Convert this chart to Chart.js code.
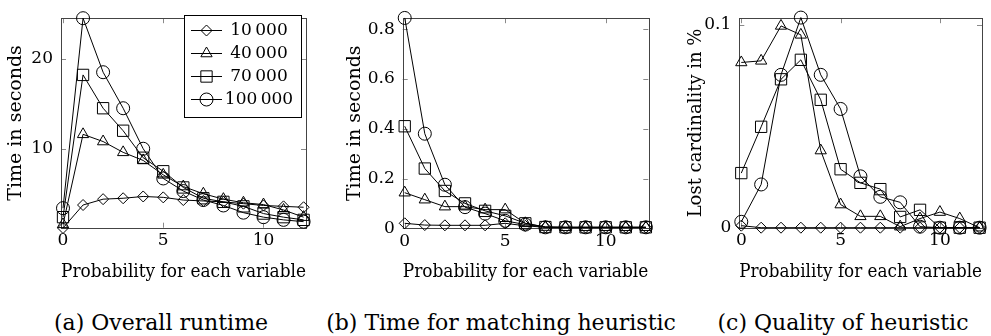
<!DOCTYPE html>
<html>
<head>
<meta charset="utf-8">
<script src="https://cdn.jsdelivr.net/npm/chart.js@4"></script>
<style>
  body { margin: 0; background: #fff; width: 991px; height: 336px; position: relative; overflow: hidden; font-family: 'DejaVu Serif', serif; }
  canvas { position: absolute; top: 0; }
  .cap { position: absolute; top: 308px; font-size: 22px; line-height: 29px; white-space: nowrap; transform: translateX(-50%); color: #000; }
</style>
</head>
<body>
<canvas id="runtimeChart" width="330" height="290" style="left:0px"></canvas>
<canvas id="matchingChart" width="330" height="290" style="left:330px"></canvas>
<canvas id="qualityChart" width="331" height="290" style="left:660px"></canvas>
<div class="cap" style="left:161px">(a) Overall runtime</div>
<div class="cap" style="left:501px">(b) Time for matching heuristic</div>
<div class="cap" style="left:843px">(c) Quality of heuristic</div>
<script>
const probabilities = [0, 1, 2, 3, 4, 5, 6, 7, 8, 9, 10, 11, 12];
const seriesLabels = ['10\u2009000', '40\u2009000', '70\u2009000', '100\u2009000'];
const xTicks = [0, 5, 10];

// (a) overall runtime, seconds
const runtime10k  = [1.2, 3.75, 4.4, 4.5, 4.7, 4.6, 4.3, 4.2, 4.1, 3.9, 3.7, 3.6, 3.5];
const runtime40k  = [1.6, 11.6, 10.8, 9.6, 8.7, 7.1, 5.8, 5.0, 4.4, 4.0, 3.8, 3.2, 2.4];
const runtime70k  = [2.4, 18.2, 14.5, 12.0, 9.0, 7.5, 5.7, 4.5, 4.1, 3.6, 2.8, 2.4, 2.1];
const runtime100k = [3.4, 24.5, 18.5, 14.5, 10.0, 6.7, 5.3, 4.3, 3.7, 2.9, 2.4, 2.1, 1.9];
const runtimeTicks = [10, 20];

// (b) matching heuristic, seconds
const matching10k  = [0.02, 0.013, 0.012, 0.012, 0.012, 0.02, 0.01, 0.004, 0.003, 0.003, 0.003, 0.003, 0.003];
const matching40k  = [0.143, 0.115, 0.087, 0.087, 0.075, 0.075, 0.02, 0.005, 0.004, 0.004, 0.004, 0.004, 0.004];
const matching70k  = [0.41, 0.24, 0.15, 0.10, 0.07, 0.05, 0.02, 0.005, 0.004, 0.004, 0.004, 0.004, 0.004];
const matching100k = [0.845, 0.38, 0.175, 0.085, 0.059, 0.03, 0.015, 0.004, 0.004, 0.004, 0.004, 0.004, 0.004];
const matchingTicks = [0, 0.2, 0.4, 0.6, 0.8];

// (c) lost cardinality, percent
const quality10k  = [0.001, 0, 0, 0, 0, 0, 0, 0, 0, 0, 0, 0, 0];
const quality40k  = [0.0814, 0.0822, 0.0994, 0.095, 0.038, 0.0114, 0.0056, 0.0056, 0.0005, 0.0045, 0.0077, 0.0045, 0];
const quality70k  = [0.0269, 0.0497, 0.0731, 0.0827, 0.063, 0.0288, 0.0221, 0.019, 0.0053, 0.0088, 0, 0, 0];
const quality100k = [0.0029, 0.0213, 0.0753, 0.1035, 0.0753, 0.0585, 0.0253, 0.0152, 0.0125, 0.0005, 0, 0, 0];
const qualityTicks = [0, 0.1];

const pointStyles = ['rectRot', 'triangle', 'rect', 'circle'];
const pointRadii = [5.5, 6.5, 8, 6.5];

Chart.defaults.font.family = "'DejaVu Serif', serif";
Chart.defaults.color = '#000';
Chart.defaults.plugins.legend.display = false;
Chart.defaults.plugins.tooltip.enabled = false;
Chart.defaults.animation = false;

function drawMarker(ctx, i, x, y) {
  ctx.strokeStyle = '#000';
  ctx.fillStyle = 'rgba(0,0,0,0)';
  ctx.lineWidth = 1;
  Chart.helpers.drawPoint(ctx, { pointStyle: pointStyles[i], radius: pointRadii[i], rotation: 0, borderWidth: 1 }, x, y);
}

const frameAndTicks = {
  id: 'frameAndTicks',
  beforeDatasetsDraw(chart) {
    const { ctx, chartArea: a, scales } = chart;
    ctx.save();
    ctx.strokeStyle = '#8a8a8a';
    ctx.lineWidth = 1;
    ctx.beginPath();
    scales.x.ticks.forEach(t => {
      const px = Math.round(scales.x.getPixelForValue(t.value)) + 0.5;
      ctx.moveTo(px, a.bottom); ctx.lineTo(px, a.bottom - 5);
      ctx.moveTo(px, a.top); ctx.lineTo(px, a.top + 5);
    });
    scales.y.ticks.forEach(t => {
      const py = Math.round(scales.y.getPixelForValue(t.value)) + 0.5;
      ctx.moveTo(a.left, py); ctx.lineTo(a.left + 5, py);
      ctx.moveTo(a.right, py); ctx.lineTo(a.right - 5, py);
    });
    ctx.stroke();
    ctx.strokeStyle = '#444';
    ctx.strokeRect(Math.round(a.left) + 0.5, Math.round(a.top) + 0.5,
      Math.round(a.right - a.left), Math.round(a.bottom - a.top));
    ctx.restore();
  }
};

const boxLegend = {
  id: 'boxLegend',
  afterDraw(chart) {
    const ctx = chart.ctx;
    ctx.save();
    ctx.fillStyle = '#fff';
    ctx.fillRect(184.5, 15.5, 117, 102);
    ctx.strokeStyle = '#000';
    ctx.lineWidth = 1;
    ctx.strokeRect(184.5, 15.5, 117, 102);
    const rows = [30, 53, 76, 99];
    ctx.font = "17px 'DejaVu Serif'";
    ctx.textAlign = 'center';
    ctx.textBaseline = 'middle';
    seriesLabels.forEach((lab, i) => {
      const y = rows[i] + 0.5;
      ctx.beginPath();
      ctx.moveTo(191, y); ctx.lineTo(222, y);
      ctx.strokeStyle = '#000';
      ctx.stroke();
      drawMarker(ctx, i, 206.5, y);
      ctx.fillStyle = '#000';
      ctx.fillText(lab, 259, rows[i] + 1);
    });
    ctx.restore();
  }
};

function makeChart(id, series, o) {
  return new Chart(document.getElementById(id), {
    type: 'line',
    data: {
      datasets: series.map((vals, i) => ({
        label: seriesLabels[i],
        data: probabilities.map((p, k) => ({ x: p, y: vals[k] })),
        borderColor: '#000',
        borderWidth: 1,
        tension: 0,
        fill: false,
        clip: false,
        pointStyle: pointStyles[i],
        pointRadius: pointRadii[i],
        pointBorderColor: '#000',
        pointBackgroundColor: 'rgba(0,0,0,0)',
        pointBorderWidth: 1
      }))
    },
    options: {
      responsive: false,
      layout: { padding: { top: 12.7, right: o.padRight, left: 0, bottom: 0 } },
      scales: {
        x: {
          type: 'linear',
          min: -0.1,
          max: 12.12,
          afterBuildTicks: s => { s.ticks = xTicks.map(v => ({ value: v })); },
          afterFit: s => { s.height = 290 - o.bottom; },
          grid: { display: false, drawTicks: false },
          border: { display: false },
          ticks: { font: { size: 17 }, padding: 3, maxRotation: 0, callback: v => String(v) },
          title: { display: true, text: 'Probability for each variable', font: { size: 18.5 }, padding: { top: 0, bottom: 7 } }
        },
        y: {
          type: 'linear',
          min: o.yMin,
          max: o.yMax,
          afterBuildTicks: s => { s.ticks = o.yTicks.map(v => ({ value: v })); },
          afterFit: s => { s.width = o.axisW; },
          grid: { display: false, drawTicks: false },
          border: { display: false },
          ticks: { font: { size: 17 }, padding: 8, callback: v => String(v) },
          title: { display: true, text: o.yTitle, font: { size: o.titleSize }, padding: { top: o.titlePad, bottom: 0 } }
        }
      }
    },
    plugins: o.legend ? [frameAndTicks, boxLegend] : [frameAndTicks]
  });
}

makeChart('runtimeChart', [runtime10k, runtime40k, runtime70k, runtime100k], {
  axisW: 61, padRight: 24, bottom: 227.7, yMin: 1.23, yMax: 24.5,
  yTicks: runtimeTicks, yTitle: 'Time in seconds', titleSize: 19, titlePad: 5, legend: true
});
makeChart('matchingChart', [matching10k, matching40k, matching70k, matching100k], {
  axisW: 72.7, padRight: 11.7, bottom: 228.3, yMin: 0, yMax: 0.844,
  yTicks: matchingTicks, yTitle: 'Time in seconds', titleSize: 19, titlePad: 14
});
makeChart('qualityChart', [quality10k, quality40k, quality70k, quality100k], {
  axisW: 79.3, padRight: 6, bottom: 227.7, yMin: 0, yMax: 0.1032,
  yTicks: qualityTicks, yTitle: 'Lost cardinality in %', titleSize: 18, titlePad: 26
});
</script>
</body>
</html>
